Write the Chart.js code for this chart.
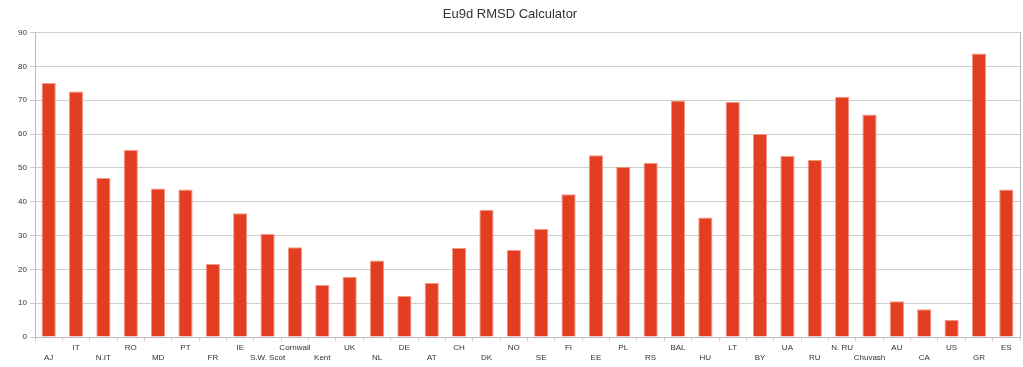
<!DOCTYPE html>
<html>
<head>
<meta charset="utf-8">
<script src="https://cdn.jsdelivr.net/npm/chart.js@4/dist/chart.umd.min.js"></script>
<style>
  html, body { margin: 0; padding: 0; background: #fff; }
  #wrap { width: 1023px; height: 367px; }
</style>
</head>
<body>
<div id="wrap"><canvas id="rmsdChart"></canvas></div>
<script>
// Categories (populations) and their RMSD values
const populations = ['AJ', 'IT', 'N.IT', 'RO', 'MD', 'PT', 'FR', 'IE', 'S.W. Scot', 'Cornwall',
  'Kent', 'UK', 'NL', 'DE', 'AT', 'CH', 'DK', 'NO', 'SE', 'FI', 'EE', 'PL', 'RS', 'BAL',
  'HU', 'LT', 'BY', 'UA', 'RU', 'N. RU', 'Chuvash', 'AU', 'CA', 'US', 'GR', 'ES'];
const rmsdValues = [75.1, 72.6, 47.0, 55.3, 43.9, 43.6, 21.6, 36.6, 30.5, 26.5,
  15.4, 17.8, 22.6, 12.1, 16.0, 26.3, 37.6, 25.7, 31.9, 42.2, 53.7, 50.3, 51.5, 69.9,
  35.3, 69.5, 60.0, 53.6, 52.4, 71.0, 65.8, 10.6, 8.2, 5.1, 83.8, 43.6];
const yTicks = { min: 0, max: 90, step: 10 };

const textColor = '#333333';
const gridColor = '#cfcfcf';

new Chart(document.getElementById('rmsdChart'), {
    type: 'bar',
    data: {
        labels: populations,
        datasets: [{
            label: 'RMSD',
            data: rmsdValues,
            backgroundColor: '#e43e22',
            borderColor: '#f19a86',
            borderWidth: 1,
            barPercentage: 0.52,
            categoryPercentage: 1.0
        }]
    },
    options: {
        responsive: true,
        maintainAspectRatio: false,
        animation: false,
        layout: { padding: { left: 0, right: 3, top: 0, bottom: 0 } },
        plugins: {
            legend: { display: false },
            tooltip: { enabled: false },
            title: {
                display: true,
                text: 'Eu9d RMSD Calculator',
                color: textColor,
                font: { family: 'Liberation Sans, Arial, sans-serif', size: 13, weight: 'normal' },
                padding: { top: 7, bottom: 10 }
            }
        },
        scales: {
            x: {
                offset: true,
                grid: {
                    offset: true,
                    drawOnChartArea: false,
                    color: gridColor,
                    tickLength: 4
                },
                border: { color: '#bbbbbb' },
                ticks: {
                    color: textColor,
                    autoSkip: false,
                    maxRotation: 0,
                    padding: 2,
                    font: { family: 'Liberation Sans, Arial, sans-serif', size: 8 },
                    // stagger labels over two rows
                    callback: function (value, index) {
                        const lbl = this.getLabelForValue(value);
                        return index % 2 === 0 ? ['', lbl] : lbl;
                    }
                },
                afterFit: (scale) => { scale.height = 30; }
            },
            y: {
                min: yTicks.min,
                max: yTicks.max,
                position: 'left',
                grid: { color: gridColor, tickLength: 5 },
                border: { color: '#bbbbbb' },
                ticks: {
                    stepSize: yTicks.step,
                    color: textColor,
                    padding: 3,
                    font: { family: 'Liberation Sans, Arial, sans-serif', size: 8 }
                },
                afterFit: (scale) => { scale.width = 35; }
            },
            yRight: {
                position: 'right',
                min: yTicks.min,
                max: yTicks.max,
                grid: { display: false },
                border: { color: '#bbbbbb' },
                ticks: { display: false },
                afterFit: (scale) => { scale.width = 0; }
            }
        }
    }
});
</script>
</body>
</html>
